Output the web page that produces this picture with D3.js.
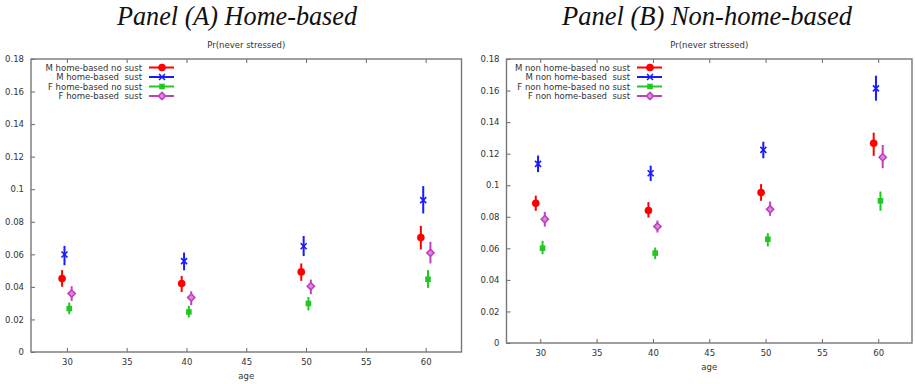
<!DOCTYPE html>
<html>
<head>
<meta charset="utf-8">
<script src="https://cdn.jsdelivr.net/npm/d3@7"></script>
<style>
  body { margin: 0; background: #fff; }
  svg { display: block; }
  .tick text { font-family: "DejaVu Sans", sans-serif; font-size: 8.5px; fill: #333; }
</style>
</head>
<body>
<div id="viewer"></div>
<script>
const ages = [30, 40, 50, 60];
const xTicks = [30, 35, 40, 45, 50, 55, 60];
const yTicks = [0, 0.02, 0.04, 0.06, 0.08, 0.1, 0.12, 0.14, 0.16, 0.18];

const seriesOffsets = [-0.4, -0.2, 0.2, 0.4];
const seriesColors = ['#ff0000', '#1a1aff', '#22c822', '#c040c0'];
const seriesMarkers = ['circle', 'cross', 'square', 'diamond'];

const homeLabels = ['M home-based no sust', 'M home-based  sust', 'F home-based no sust', 'F home-based  sust'];
const nonHomeLabels = ['M non home-based no sust', 'M non home-based  sust', 'F non home-based no sust', 'F non home-based  sust'];

// panel A: mean, lower, upper per age
const homeMean = [
    [0.0451, 0.0421, 0.0492, 0.0703],
    [0.0599, 0.0558, 0.0650, 0.0933],
    [0.0267, 0.0246, 0.0298, 0.0447],
    [0.0359, 0.0335, 0.0404, 0.0609]
];
const homeLow = [
    [0.0401, 0.0369, 0.0437, 0.0630],
    [0.0533, 0.0502, 0.0589, 0.0851],
    [0.0232, 0.0212, 0.0256, 0.0394],
    [0.0314, 0.0287, 0.0355, 0.0544]
];
const homeHigh = [
    [0.0503, 0.0467, 0.0544, 0.0775],
    [0.0652, 0.0611, 0.0713, 0.1019],
    [0.0304, 0.0283, 0.0338, 0.0503],
    [0.0404, 0.0373, 0.0445, 0.0677]
];

// panel B
const nonHomeMean = [
    [0.0886, 0.0840, 0.0954, 0.1266],
    [0.1135, 0.1076, 0.1224, 0.1614],
    [0.0601, 0.0570, 0.0658, 0.0901],
    [0.0785, 0.0738, 0.0848, 0.1177]
];
const nonHomeLow = [
    [0.0838, 0.0795, 0.0901, 0.1186],
    [0.1083, 0.1027, 0.1171, 0.1536],
    [0.0563, 0.0532, 0.0612, 0.0838],
    [0.0738, 0.0700, 0.0806, 0.1108]
];
const nonHomeHigh = [
    [0.0934, 0.0893, 0.1007, 0.1333],
    [0.1188, 0.1124, 0.1276, 0.1694],
    [0.0648, 0.0605, 0.0696, 0.0960],
    [0.0831, 0.0776, 0.0897, 0.1255]
];

const svg = d3.select('#viewer').append('svg')
    .attr('width', 915)
    .attr('height', 384);

function drawMarker(g, type, x, y, color) {
    if (type === 'circle') {
        g.append('circle').attr('cx', x).attr('cy', y).attr('r', 3.8).attr('fill', color);
    } else if (type === 'square') {
        g.append('rect').attr('x', x - 2.8).attr('y', y - 2.8).attr('width', 5.6).attr('height', 5.6).attr('fill', color);
    } else if (type === 'diamond') {
        g.append('path')
            .attr('d', `M${x},${y - 3.6}L${x + 3.6},${y}L${x},${y + 3.6}L${x - 3.6},${y}Z`)
            .attr('fill', '#d88ad8').attr('stroke', color).attr('stroke-width', 1.6);
    } else {
        g.append('path')
            .attr('d', `M${x - 3},${y - 3}L${x + 3},${y + 3}M${x - 3},${y + 3}L${x + 3},${y - 3}`)
            .attr('stroke', color).attr('stroke-width', 1.6).attr('fill', 'none');
    }
}

function drawPanel(cfg) {
    const xScale = d3.scaleLinear().domain([27, 63]).range([cfg.left, cfg.right]);
    const yScale = d3.scaleLinear().domain([0, 0.18]).range([cfg.bottom, cfg.top]);

    // panel title above plot
    svg.append('text')
        .attr('x', cfg.titleX).attr('y', 25)
        .attr('text-anchor', 'middle')
        .attr('font-family', '"Liberation Serif", "Times New Roman", serif')
        .attr('font-style', 'italic')
        .attr('font-size', 27)
        .attr('textLength', cfg.titleWidth)
        .attr('lengthAdjust', 'spacingAndGlyphs')
        .attr('fill', '#111')
        .text(cfg.title);

    const g = svg.append('g');

    const xAxis = d3.axisBottom(xScale).tickValues(xTicks).tickSize(-4).tickPadding(7);
    const gx = g.append('g').attr('transform', `translate(0,${cfg.bottom})`).call(xAxis);
    const xTop = d3.axisTop(xScale).tickValues(xTicks).tickSize(-4).tickFormat('');
    const gxt = g.append('g').attr('transform', `translate(0,${cfg.top})`).call(xTop);

    const yAxis = d3.axisLeft(yScale).tickValues(yTicks).tickSize(-4).tickPadding(7)
        .tickFormat(d3.format('.2~f'));
    const gy = g.append('g').attr('transform', `translate(${cfg.left},0)`).call(yAxis);

    [gx, gxt, gy].forEach(a => {
        a.select('.domain').remove();
        a.selectAll('.tick line').attr('stroke', '#666').attr('stroke-width', 1);
    });

    g.append('rect')
        .attr('x', cfg.left).attr('y', cfg.top)
        .attr('width', cfg.right - cfg.left).attr('height', cfg.bottom - cfg.top)
        .attr('fill', 'none').attr('stroke', '#777').attr('stroke-width', 1.4);

    g.append('text')
        .attr('x', (cfg.left + cfg.right) / 2).attr('y', 48)
        .attr('text-anchor', 'middle')
        .attr('font-family', '"DejaVu Sans", sans-serif').attr('font-size', 8.5).attr('fill', '#333')
        .text('Pr(never stressed)');

    g.append('text')
        .attr('x', (cfg.left + cfg.right) / 2).attr('y', cfg.bottom + 27)
        .attr('text-anchor', 'middle')
        .attr('font-family', '"DejaVu Sans", sans-serif').attr('font-size', 8.5).attr('fill', '#333')
        .text('age');

    // error bars and points
    cfg.mean.forEach((vals, s) => {
        const sg = g.append('g');
        vals.forEach((v, i) => {
            const x = xScale(ages[i] + seriesOffsets[s]);
            sg.append('line')
                .attr('x1', x).attr('x2', x)
                .attr('y1', yScale(cfg.low[s][i])).attr('y2', yScale(cfg.high[s][i]))
                .attr('stroke', seriesColors[s]).attr('stroke-width', 2);
            drawMarker(sg, seriesMarkers[s], x, yScale(v), seriesColors[s]);
        });
    });

    // legend
    const leg = g.append('g');
    cfg.labels.forEach((lab, s) => {
        const y = 67.5 + s * 9.5;
        leg.append('text')
            .attr('x', cfg.legendX).attr('y', y + 3)
            .attr('text-anchor', 'end')
            .attr('font-family', '"DejaVu Sans", sans-serif').attr('font-size', 8.5).attr('fill', '#333')
            .attr('xml:space', 'preserve')
            .style('white-space', 'pre')
            .text(lab);
        leg.append('line')
            .attr('x1', cfg.legendX + 7).attr('x2', cfg.legendX + 32)
            .attr('y1', y).attr('y2', y)
            .attr('stroke', seriesColors[s]).attr('stroke-width', 2);
        drawMarker(leg, seriesMarkers[s], cfg.legendX + 20, y, seriesColors[s]);
    });
}

drawPanel({
    left: 31, right: 461.5, top: 59, bottom: 352,
    title: 'Panel (A) Home-based', titleX: 237, titleWidth: 240,
    legendX: 142,
    labels: homeLabels, mean: homeMean, low: homeLow, high: homeHigh
});

drawPanel({
    left: 506.5, right: 912, top: 59, bottom: 343,
    title: 'Panel (B) Non-home-based', titleX: 707, titleWidth: 290,
    legendX: 630,
    labels: nonHomeLabels, mean: nonHomeMean, low: nonHomeLow, high: nonHomeHigh
});
</script>
</body>
</html>
